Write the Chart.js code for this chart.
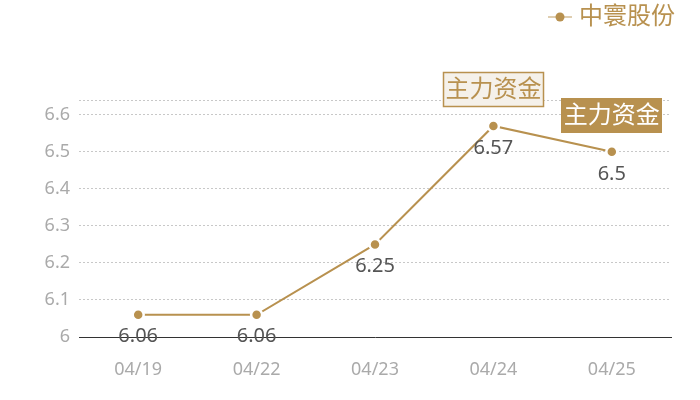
<!DOCTYPE html>
<html>
<head>
<meta charset="utf-8">
<style>
  html, body { margin: 0; padding: 0; background: #fff; }
  #wrap { width: 700px; height: 400px; position: relative; }
</style>
<script src="https://cdn.jsdelivr.net/npm/chart.js@4.4.1/dist/chart.umd.min.js"></script>
</head>
<body>
<div id="wrap"><canvas id="priceChart"></canvas></div>
<script>
// Data
const dates = ['04/19', '04/22', '04/23', '04/24', '04/25'];
const prices = [6.06, 6.06, 6.25, 6.57, 6.5];
const yTicks = [6, 6.1, 6.2, 6.3, 6.4, 6.5, 6.6];
const yMax = 6.64;
const seriesName = '中寰股份';
const markIndex = [3, 4];
const markLabels = ['主力资金', '主力资金'];

const FONT = "'Noto Sans', 'Noto Sans CJK SC', sans-serif";
const GOLD = '#b8914f';

// Draws value labels, mark boxes and the legend
const overlayPlugin = {
    id: 'overlay',
    afterDatasetsDraw(chart) {
        const ctx = chart.ctx;
        const meta = chart.getDatasetMeta(0);
        ctx.save();
        ctx.textAlign = 'center';
        ctx.textBaseline = 'middle';

        // value under each point
        ctx.font = '20px ' + FONT;
        ctx.fillStyle = '#555';
        meta.data.forEach((pt, i) => {
            ctx.fillText(String(prices[i]), pt.x, pt.y + 22);
        });

        // mark boxes above points
        ctx.font = '24px ' + FONT;
        markIndex.forEach((idx, k) => {
            const pt = meta.data[idx];
            const w = 101, h = 35;
            const x = Math.round(pt.x - w / 2), y = Math.round(pt.y - 36 - h / 2);
            if (k === 0) {
                ctx.fillStyle = '#f5f1ea';
                ctx.fillRect(x, y, w, h);
                ctx.strokeStyle = GOLD;
                ctx.lineWidth = 1.5;
                ctx.strokeRect(x + 0.5, y + 0.5, w - 1, h - 1);
                ctx.fillStyle = GOLD;
            } else {
                ctx.fillStyle = GOLD;
                ctx.fillRect(x, y, w, h);
                ctx.fillStyle = '#fff';
            }
            ctx.fillText(markLabels[k], pt.x, y + h / 2 + 1);
        });
        ctx.restore();
    },
    afterDraw(chart) {
        const ctx = chart.ctx;
        const ds = chart.data.datasets[0];
        ctx.save();
        ctx.font = '24px ' + FONT;
        ctx.textAlign = 'right';
        ctx.textBaseline = 'middle';
        ctx.fillStyle = ds.borderColor;
        const right = 675, cy = 17;
        ctx.fillText(ds.label, right, cy);
        const left = right - ctx.measureText(ds.label).width;
        ctx.strokeStyle = 'rgba(184, 145, 79, 0.6)';
        ctx.lineWidth = 1.5;
        ctx.beginPath();
        ctx.moveTo(left - 31, cy);
        ctx.lineTo(left - 7, cy);
        ctx.stroke();
        ctx.fillStyle = ds.borderColor;
        ctx.beginPath();
        ctx.arc(left - 19, cy, 4.5, 0, Math.PI * 2);
        ctx.fill();
        ctx.restore();
    }
};

new Chart(document.getElementById('priceChart'), {
    type: 'line',
    data: {
        labels: dates,
        datasets: [{
            label: seriesName,
            data: prices,
            borderColor: GOLD,
            backgroundColor: GOLD,
            borderWidth: 2,
            tension: 0,
            pointRadius: 5.5,
            pointBorderWidth: 2.5,
            pointBorderColor: '#fff',
            pointBackgroundColor: GOLD
        }]
    },
    options: {
        responsive: true,
        maintainAspectRatio: false,
        animation: false,
        layout: { padding: { top: 100, right: 29, bottom: 0, left: 0 } },
        plugins: {
            legend: { display: false },
            tooltip: { enabled: false }
        },
        scales: {
            x: {
                offset: true,
                grid: { display: false, drawTicks: false },
                border: { display: true, color: '#333', width: 1 },
                ticks: {
                    color: '#aaa',
                    font: { size: 18, family: FONT },
                    padding: 22,
                    maxRotation: 0
                },
                afterFit(axis) { axis.height = 63; }
            },
            y: {
                min: 6,
                max: yMax,
                afterBuildTicks(axis) {
                    axis.ticks = yTicks.concat([yMax]).map(v => ({ value: v }));
                },
                grid: {
                    drawTicks: false,
                    color: ctx => (ctx.tick && ctx.tick.value === 6) ? 'rgba(0,0,0,0)' : '#c8c8c8'
                },
                border: { display: false, dash: [2, 2] },
                ticks: {
                    color: '#aaa',
                    font: { size: 18, family: FONT },
                    padding: 9,
                    callback: value => value === yMax ? '' : String(value)
                },
                afterFit(axis) { axis.width = 79; }
            }
        }
    },
    plugins: [overlayPlugin]
});
</script>
</body>
</html>
